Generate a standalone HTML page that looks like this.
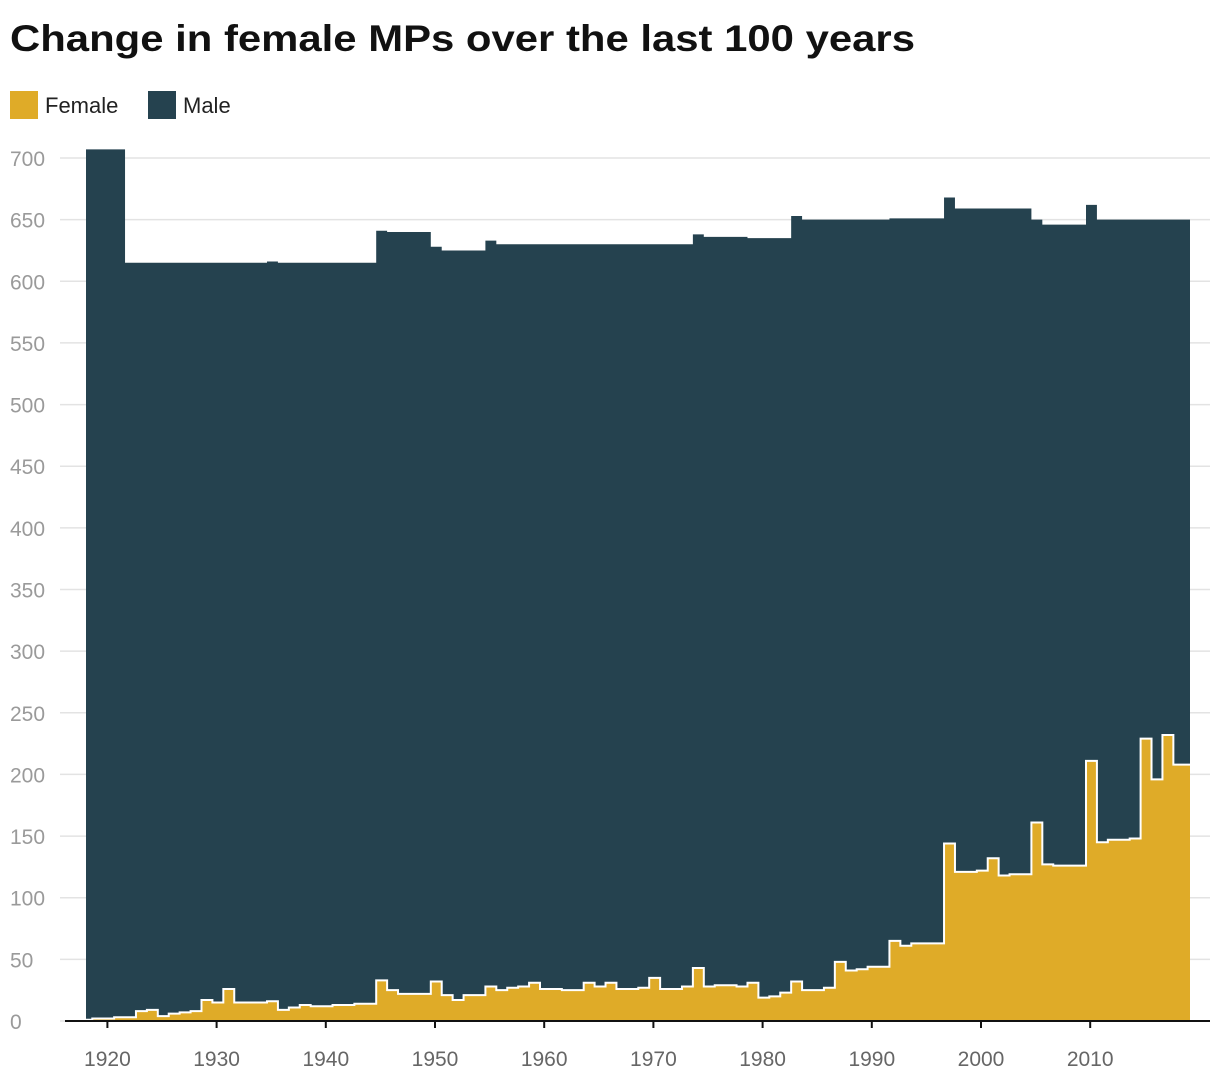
<!DOCTYPE html>
<html><head><meta charset="utf-8"><style>
html,body{margin:0;padding:0;background:#fff;}
svg{display:block;font-family:"Liberation Sans",sans-serif;}
</style></head><body>
<svg id="chart" width="1220" height="1084">
<text x="10" y="51" font-size="37" font-weight="bold" fill="#111" textLength="905" lengthAdjust="spacingAndGlyphs">Change in female MPs over the last 100 years</text>
<g>
<rect x="10" y="91" width="28" height="28" fill="#dfab28"/>
<text x="45" y="113" font-size="22" fill="#222">Female</text>
<rect x="148" y="91" width="28" height="28" fill="#25424f"/>
<text x="183" y="113" font-size="22" fill="#222">Male</text>
</g>
<g id="grid"></g><g id="marks"></g><g id="axes"></g>
</svg>
<script>
const startYear = 1918;
const female = [1,2,2,3,3,8,9,4,6,7,8,17,15,26,15,15,15,16,9,11,13,12,12,13,13,14,14,33,25,22,22,22,32,21,17,21,21,28,25,27,28,31,26,26,25,25,31,28,31,26,26,27,35,26,26,28,43,28,29,29,28,31,19,20,23,32,25,25,27,48,41,42,44,44,65,61,63,63,63,144,121,121,122,132,118,119,119,161,127,126,126,126,211,145,147,147,148,229,196,232,208,208];
const total = [707,707,707,707,615,615,615,615,615,615,615,615,615,615,615,615,615,616,615,615,615,615,615,615,615,615,615,641,640,640,640,640,628,625,625,625,625,633,630,630,630,630,630,630,630,630,630,630,630,630,630,630,630,630,630,630,638,636,636,636,636,635,635,635,635,653,650,650,650,650,650,650,650,650,651,651,651,651,651,668,659,659,659,659,659,659,659,650,646,646,646,646,662,650,650,650,650,650,650,650,650,650];
const yTicks = [0,50,100,150,200,250,300,350,400,450,500,550,600,650,700];
const xTicks = [1920,1930,1940,1950,1960,1970,1980,1990,2000,2010];

const NS="http://www.w3.org/2000/svg";
const X0=86, X1=1190;
function yS(v){return 1021 - v*(863/700);}
function xS(yr){return Math.min(X1, Math.max(X0, 103.2 + (yr-1920)*10.92));}
function mk(tag, attrs, parent){const e=document.createElementNS(NS,tag);for(const k in attrs)e.setAttribute(k,attrs[k]);parent.appendChild(e);return e;}
const grid=document.getElementById('grid'), marks=document.getElementById('marks'), axes=document.getElementById('axes');

yTicks.forEach(v=>{
  const l=mk('line',{x1:60,x2:1210,y1:yS(v),y2:yS(v),stroke:'#e3e3e3','stroke-width':1.5},grid);
  
  
  const t=mk('text',{x:10,y:yS(v)+8,'font-size':21,fill:'#9a9a9a'},grid);
  t.textContent=v;
  
  
});

function stepPath(vals){
  let d='';
  vals.forEach((v,i)=>{
    const xa=xS(startYear+i), xb=xS(startYear+i+1), y=yS(v);
    d += (i===0?'M':'L')+xa+','+y+' L'+xb+','+y+' ';
  });
  return d;
}
const n=female.length;
const baseClose=' L'+xS(startYear+n)+','+yS(0)+' L'+X0+','+yS(0)+' Z';
const male=mk('path',{d:stepPath(total)+baseClose,fill:'#25424f'},marks);


const fem=mk('path',{d:stepPath(female)+baseClose,fill:'#dfab28'},marks);


const fl=mk('path',{d:stepPath(female),fill:'none',stroke:'#fff','stroke-width':2},marks);



const base=mk('line',{x1:65,x2:1210,y1:1021,y2:1021,stroke:'#111','stroke-width':2},axes);


xTicks.forEach(yr=>{
  const cx=xS(yr)+4.2;
  const tk=mk('line',{x1:cx,x2:cx,y1:1021,y2:1028,stroke:'#111','stroke-width':2},axes);
  
  
  const t=mk('text',{x:cx,y:1066,'font-size':21,fill:'#666','text-anchor':'middle'},axes);
  t.textContent=yr;
  
  
});
</script>
</body></html>
